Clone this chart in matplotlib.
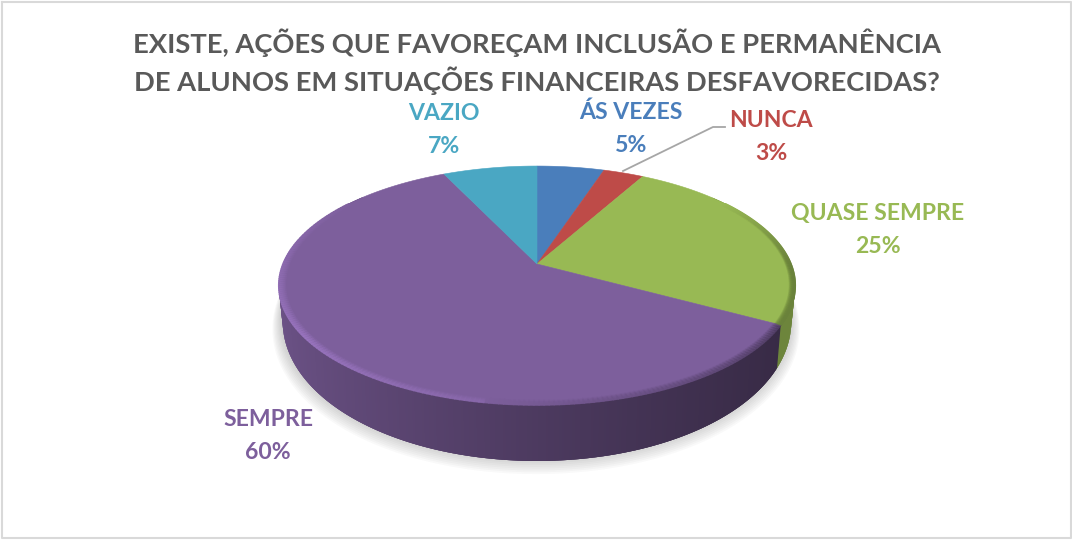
"""
3D style pie chart, drawn by hand with a perspective projection of the disc
"""

### Import modules
import numpy as np
import matplotlib
matplotlib.use('Agg')
import matplotlib.pyplot as plt
import matplotlib.colors as c
from matplotlib.collections import LineCollection

### Data
categories = ['ÁS VEZES','NUNCA','QUASE SEMPRE','SEMPRE','VAZIO']
values     = [5,3,25,60,7]
colors     = ['#4a7ebb','#be4b48','#98b954','#7d5f9c','#4aa7c3']
title      = 'EXISTE, AÇÕES QUE FAVOREÇAM INCLUSÃO E PERMANÊNCIA\nDE ALUNOS EM SITUAÇÕES FINANCEIRAS DESFAVORECIDAS?'

### Label places in pixels
label_x    = [631,771,878,268,444]
label_y    = [119,127,220,426,120]
label_gap  = 33

### Disc geometry in pixels
cx,cy = 537,264
a,b,k = 254,115.6,0.18

def project(theta,r=1.0):
    # theta in degrees clockwise from the top of the disc
    t = np.radians(theta)
    u = r*np.sin(t)
    v = r*np.cos(t)
    w = 1 + k*v
    return cx + a*u/w, cy - b*v/w

def project_low(theta):
    # lower outline of the disc edge
    x,y = project(theta)
    v = np.cos(np.radians(theta))
    return cx + (x-cx)*0.985, y + 31 - 25*v

def shade(hexcol,f):
    return np.clip(np.array(c.to_rgb(hexcol))*f,0,1)

### Make plot
plt.rcParams['font.family'] = ['Lato','DejaVu Sans']
fig = plt.figure(figsize=(10.72,5.4),dpi=100,facecolor='white')
ax = fig.add_axes([0,0,1,1])
ax.set_xlim(0,1072)
ax.set_ylim(540,0)
ax.axis('off')

### Chart border
ax.plot([1.5,1070.5,1070.5,1.5,1.5],[2,2,538,538,2],color='#d9d9d9',lw=1.5,zorder=1)

### Soft shadow
ang = np.linspace(50,310,200)
sx,sy = project_low(ang)
for s in np.arange(1,10):
    f = 1 + s*0.004
    ax.fill(cx+(sx-cx)*f-1,cy+(sy-cy)*f+1.0*s-3,color='#7f7f7f',alpha=0.045,lw=0,zorder=2)

### Slice limits from the values
edges = np.concatenate([[0],np.cumsum(values)])/np.sum(values)*360

### Edge of the disc, only the front slices can be seen
for i in [2,3]:
    steps = np.arange(max(edges[i],50),min(edges[i+1],310),0.5)
    steps = np.append(steps,min(edges[i+1],310))
    for t0,t1 in zip(steps[:-1],steps[1:]):
        x0,y0 = project(t0)
        x1,y1 = project(min(t1+1.0,310))
        x2,y2 = project_low(min(t1+1.0,310))
        x3,y3 = project_low(t0)
        frac = np.clip((0.5*(x0+x1)-279)/516,0,1)
        if i == 3:
            f = 0.86 - 0.42*frac**0.75
        else:
            f = 0.72
        ax.fill([x0,x1,x2,x3],[y0,y1,y2,y3],color=shade(colors[i],f),lw=0,zorder=3)

### Top of the disc
for i in range(len(values)):
    t = np.linspace(edges[i],edges[i+1],120)
    x,y = project(t)
    ax.fill(np.r_[cx,x],np.r_[cy,y],color=colors[i],lw=0.4,ec=colors[i],zorder=4)

### Bevel along the rim, a band of thin lines that fade out inwards
def rim(t0,t1,col_fn,width,alpha):
    t = np.linspace(t0,t1,200)
    for r in np.linspace(1.0,1.0-width,7):
        x,y = project(t,r)
        pts = np.column_stack([x,y]).reshape(-1,1,2)
        segs = np.concatenate([pts[:-1],pts[1:]],axis=1)
        cols = [col_fn(0.5*(t[j]+t[j+1])) for j in range(len(t)-1)]
        fade = alpha*(r-(1.0-width))/width
        ax.add_collection(LineCollection(segs,colors=cols,linewidths=1.2,alpha=fade,
                                         capstyle='round',zorder=5))

def purple_rim(th):
    # darker at the right hand front, lighter at the left hand front
    if th < 190:
        return shade(colors[3],0.62 + 0.38*(th-edges[3])/(190-edges[3]))
    g = np.clip(1.0 - abs(th-235)/75,0,1)
    return shade(colors[3],1 + 0.24*g)

def green_rim(th):
    # fades in from the top right
    g = np.clip((th-55)/35,0,1)
    return shade(colors[2],1 - 0.3*g)

rim(edges[3],305,purple_rim,0.03,0.8)
rim(55,edges[3],green_rim,0.025,0.75)

### Leader line for NUNCA
ax.plot([623,713,725],[171,127,127],color='#a6a6a6',lw=1.3,zorder=6)

### Text
lines = title.split('\n')
ax.text(537,53,lines[0],ha='center',va='baseline',fontsize=19.75,fontweight='bold',color='#595959')
ax.text(537,91,lines[1],ha='center',va='baseline',fontsize=19.75,fontweight='bold',color='#595959')

for i in range(len(categories)):
    ax.text(label_x[i],label_y[i],categories[i],ha='center',va='baseline',
            fontsize=16.6,fontweight='bold',color=colors[i])
    ax.text(label_x[i],label_y[i]+label_gap,'%d%%' % values[i],ha='center',va='baseline',
            fontsize=16.6,fontweight='bold',color=colors[i])

plt.savefig('out.png',dpi=100,facecolor='white')
